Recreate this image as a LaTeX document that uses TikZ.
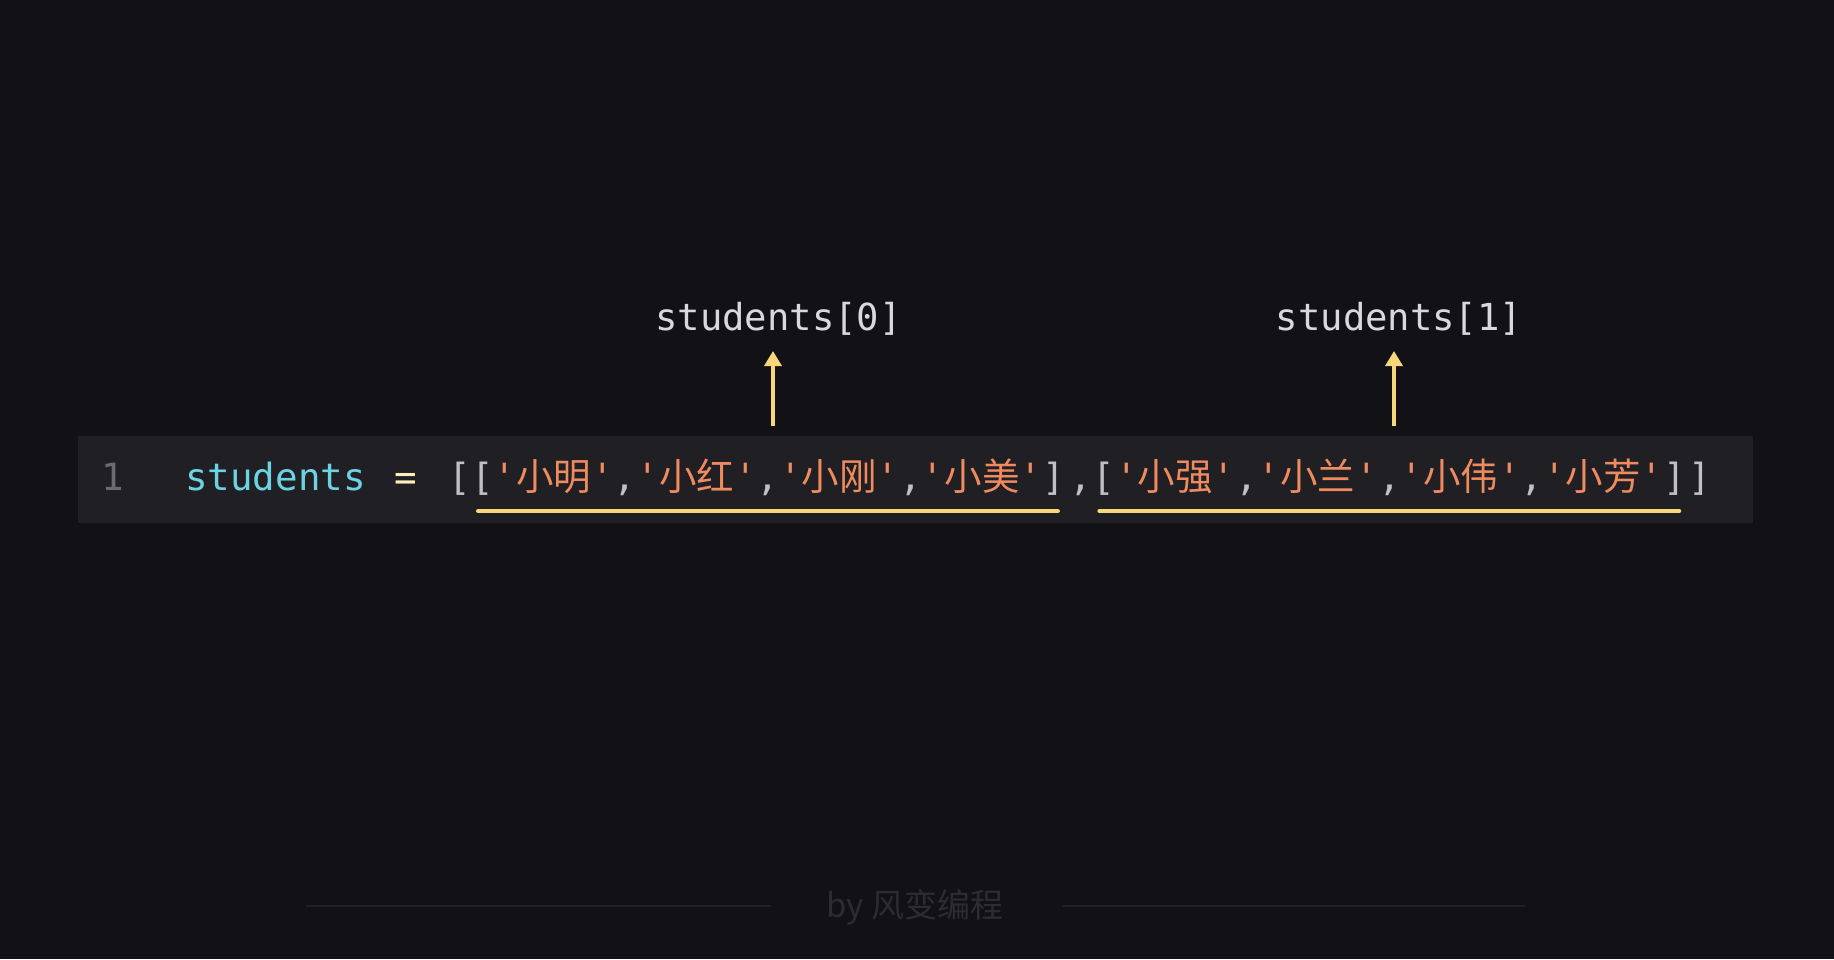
\documentclass[tikz,border=0pt]{standalone}
\usepackage{fontspec}
\setmonofont{DejaVu Sans Mono}
\newfontfamily\cjk{Noto Sans CJK SC}
\usetikzlibrary{arrows.meta}
\definecolor{pagebg}{HTML}{111116}
\definecolor{codebg}{HTML}{1F1F24}
\definecolor{varcyan}{HTML}{6DD3E3}
\definecolor{strorange}{HTML}{EF8B5E}
\definecolor{brgray}{HTML}{BFBFC4}
\definecolor{eqcol}{HTML}{FFEEBB}
\definecolor{numgray}{HTML}{6B6B70}
\definecolor{labgray}{HTML}{D9D9DC}
\definecolor{uline}{HTML}{F7D77A}
\definecolor{footgray}{HTML}{2C2C31}
\definecolor{footline}{HTML}{202025}
\newcommand{\qs}[1]{{\color{strorange}'{\cjk #1}'}}
\newcommand{\cm}{{\color{brgray},}}
\begin{document}
\begin{tikzpicture}[x=1pt,y=-1pt,
  codetxt/.style={inner sep=0pt,anchor=base west,font=\ttfamily\fontsize{37.5}{40}\selectfont},
  labtxt/.style={inner sep=0pt,anchor=base,text=labgray,font=\ttfamily\fontsize{37.2}{40}\selectfont},
  ptr/.style={draw=uline,line width=3.5pt,-{Triangle[length=15pt,width=17pt]}},
  uln/.style={draw=uline,line width=4pt,line cap=round},
  footrule/.style={draw=footline,line width=2pt}]
\useasboundingbox[fill=pagebg] (0,0) rectangle (1834,959);
% code line background
\fill[codebg] (78,436) rectangle (1753,523);
% line number
\node[codetxt,anchor=base,text=numgray] (num) at (113,490) {1};
\node[codetxt,text=varcyan] (var) at (185,490) {students};
\node[codetxt,anchor=base,text=eqcol] (eq) at (406,490) {=};
\node[codetxt,text=brgray] (ob) at (448,490) {[};
\node[codetxt] (g1) at (ob.base east) {{\color{brgray}[}\qs{小明}\cm\qs{小红}\cm\qs{小刚}\cm\qs{小美}{\color{brgray}]}};
\node[codetxt,text=brgray] (sep) at ([xshift=4.5pt]g1.base east) {,};
\node[codetxt] (g2) at (sep.base east) {{\color{brgray}[}\qs{小强}\cm\qs{小兰}\cm\qs{小伟}\cm\qs{小芳}{\color{brgray}]}};
\node[codetxt,text=brgray] (cb) at ([xshift=2pt]g2.base east) {]};
% underlines
\draw[uln] ([xshift=7pt,yshift=-21pt]g1.base west) -- ([xshift=-7pt,yshift=-21pt]g1.base east);
\draw[uln] ([xshift=7pt,yshift=-21pt]g2.base west) -- ([xshift=-7pt,yshift=-21pt]g2.base east);
% labels and pointers
\node[labtxt] (lab0) at (778.5,330) {students[0]};
\node[labtxt] (lab1) at (1399,330) {students[1]};
\coordinate (s0) at (773,426);
\coordinate (t0) at (773,351);
\coordinate (s1) at (1394,426);
\coordinate (t1) at (1394,351);
\draw[ptr] (s0) -- (t0);
\draw[ptr] (s1) -- (t1);
% footer
\node[inner sep=0pt,text=footgray,font=\cjk\fontsize{33}{35}\selectfont] (foot) at (915,907) {by 风变编程};
\coordinate (fl0) at (306,906);
\coordinate (fl1) at (771,906);
\coordinate (fr0) at (1062,906);
\coordinate (fr1) at (1525,906);
\draw[footrule] (fl0) -- (fl1);
\draw[footrule] (fr0) -- (fr1);
\end{tikzpicture}
\end{document}
